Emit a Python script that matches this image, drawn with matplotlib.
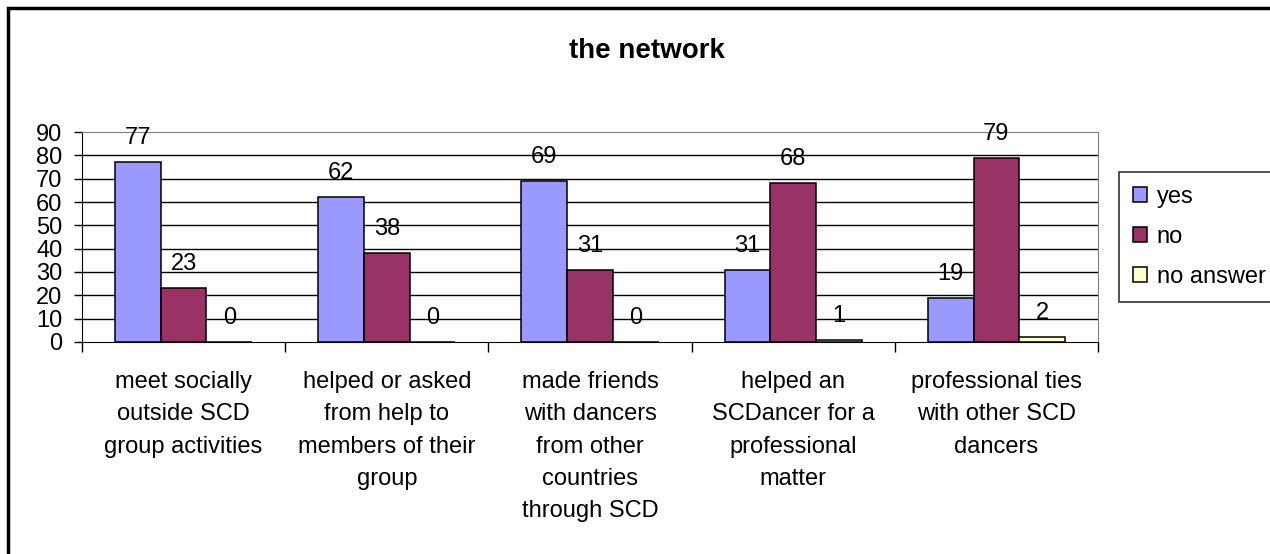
import matplotlib.pyplot as plt
import numpy as np
from matplotlib.patches import Rectangle

plt.rcParams['font.family'] = ['Liberation Sans', 'DejaVu Sans']

categories = ['meet socially\noutside SCD\ngroup activities',
              'helped or asked\nfrom help to\nmembers of their\ngroup',
              'made friends\nwith dancers\nfrom other\ncountries\nthrough SCD',
              'helped an\nSCDancer for a\nprofessional\nmatter',
              'professional ties\nwith other SCD\ndancers']
yes = [77, 62, 69, 31, 19]
no = [23, 38, 31, 68, 79]
no_answer = [0, 0, 0, 1, 2]
series_names = ['yes', 'no', 'no answer']
colors = ['#9999FF', '#993366', '#FFFFCC']

W, H = 1270, 554
FS = 17
fig = plt.figure(figsize=(W / 100, H / 100), dpi=100)
ax = fig.add_axes([82 / W, 1 - 342 / H, (1098 - 82) / W, (342 - 132) / H])

x = np.arange(len(categories))
bw = 0.225
for i, (vals, name, col) in enumerate(zip([yes, no, no_answer], series_names, colors)):
    pos = x + (i - 1) * bw
    ax.bar(pos, vals, bw, color=col, edgecolor='black', linewidth=1.1,
           label=name, zorder=3)
    for px, v in zip(pos, vals):
        ax.annotate(str(v), (px, v), xytext=(0, 13), textcoords='offset points',
                    ha='center', va='baseline', fontsize=FS, zorder=4)

ax.set_xlim(-0.5, len(categories) - 0.5)
ax.set_ylim(0, 90)
ax.set_yticks(range(0, 91, 10))
ax.tick_params(axis='y', labelsize=FS, length=6, width=1, pad=8, direction='out')
ax.set_xticks(np.arange(len(categories) + 1) - 0.5)
ax.set_xticklabels([])
ax.tick_params(axis='x', length=7, width=1, direction='out')
ax.set_xticks(x, minor=True)
ax.set_xticklabels(categories, minor=True, fontsize=FS, linespacing=1.6)
ax.tick_params(axis='x', which='minor', length=0, pad=21)

for yv in range(10, 90, 10):
    ax.axhline(yv, color='black', linewidth=1, zorder=1)
ax.spines['top'].set_color('#808080')
ax.spines['right'].set_color('#808080')
ax.spines['left'].set_color('black')
ax.spines['bottom'].set_color('black')

fig.text(647 / W, 1 - 58 / H, 'the network', ha='center', va='baseline',
         fontsize=20, fontweight='bold')

leg = fig.legend(loc='upper left', bbox_to_anchor=(1119 / W, 1 - 172 / H),
                 fontsize=FS, frameon=True, fancybox=False, edgecolor='black',
                 handlelength=0.6, handleheight=0.6, handletextpad=0.4,
                 labelspacing=0.75, borderpad=0.6, borderaxespad=0)
leg.get_frame().set_linewidth(1.2)

fig.patches.append(Rectangle((8 / W, -0.1), 1.2, 1 - 8 / H + 0.1,
                             transform=fig.transFigure, fill=False,
                             edgecolor='black', linewidth=2.5))

fig.savefig('out.png', dpi=100)
